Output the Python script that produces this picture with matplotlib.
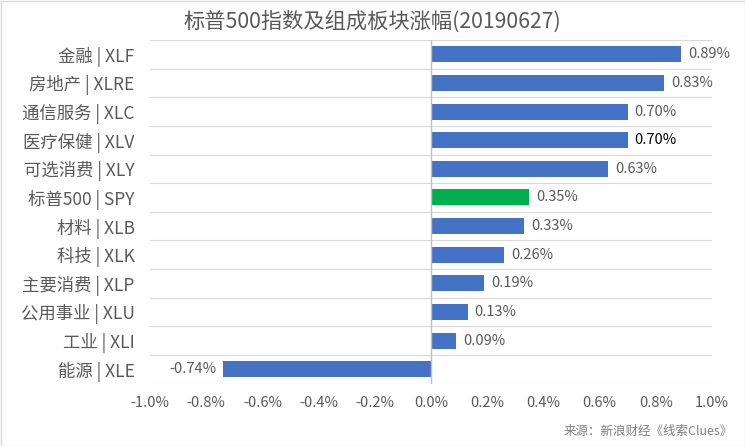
import matplotlib
matplotlib.use("Agg")
import matplotlib.pyplot as plt
from matplotlib.patches import Rectangle
from matplotlib.ticker import FuncFormatter, MultipleLocator

plt.rcParams['font.family'] = ['Noto Sans CJK SC', 'DejaVu Sans']

categories = ["金融 | XLF", "房地产 | XLRE", "通信服务 | XLC", "医疗保健 | XLV", "可选消费 | XLY",
              "标普500 | SPY", "材料 | XLB", "科技 | XLK", "主要消费 | XLP", "公用事业 | XLU",
              "工业 | XLI", "能源 | XLE"]
values = [0.89, 0.83, 0.70, 0.70, 0.63, 0.35, 0.33, 0.26, 0.19, 0.13, 0.09, -0.74]
highlight = "标普500 | SPY"

title = "标普500指数及组成板块涨幅(20190627)"
source = "来源：新浪财经《线索Clues》"

BLUE = "#4472C4"
GREEN = "#00B050"
TXT = "#595959"

fig = plt.figure(figsize=(7.45, 4.46), dpi=100)
ax = fig.add_axes([150/745, 1 - 383.5/446, (712 - 150)/745, (383.5 - 40)/446])

n = len(categories)
ypos = list(range(n))
colors = [GREEN if c == highlight else BLUE for c in categories]
ax.barh(ypos, values, height=0.56, color=colors, zorder=3)
ax.set_ylim(n - 0.5, -0.5)
ax.set_xlim(-1.0, 1.0)
ax.set_yticks(ypos)
ax.set_yticklabels(categories, fontsize=12.5, color=TXT)
ax.xaxis.set_major_locator(MultipleLocator(0.2))
ax.xaxis.set_major_formatter(FuncFormatter(lambda v, p: f"{v:.1f}%"))
ax.tick_params(axis='x', labelsize=10.5, colors=TXT, length=0, pad=9)
ax.tick_params(axis='y', length=0, pad=11)

# category boundary gridlines
for b in range(n + 1):
    ax.axhline(b - 0.5, color="#D9D9D9", lw=0.8, zorder=1)
ax.axvline(0, color="#BFBFBF", lw=1.0, zorder=4)

for s in ax.spines.values():
    s.set_visible(False)

for i, v in enumerate(values):
    lbl = f"{v:.2f}%"
    col = "#000000" if categories[i] == "医疗保健 | XLV" else TXT
    if v >= 0:
        ax.text(v + 0.025, i, lbl, va='center', ha='left', fontsize=10.5, color=col)
    else:
        ax.text(v - 0.025, i, lbl, va='center', ha='right', fontsize=10.5, color=col)

fig.text(372/745, 1 - 22/446, title, ha='center', va='center', fontsize=15.3, color=TXT)
fig.text(733/745, 1 - 431/446, source, ha='right', va='center', fontsize=9, color="#7F7F7F")

fig.patches.append(Rectangle((0.5/745, 0.5/446), 744/745, 445/446, transform=fig.transFigure,
                             fill=False, edgecolor="#D9D9D9", lw=1))

fig.savefig("out.png", dpi=100)
